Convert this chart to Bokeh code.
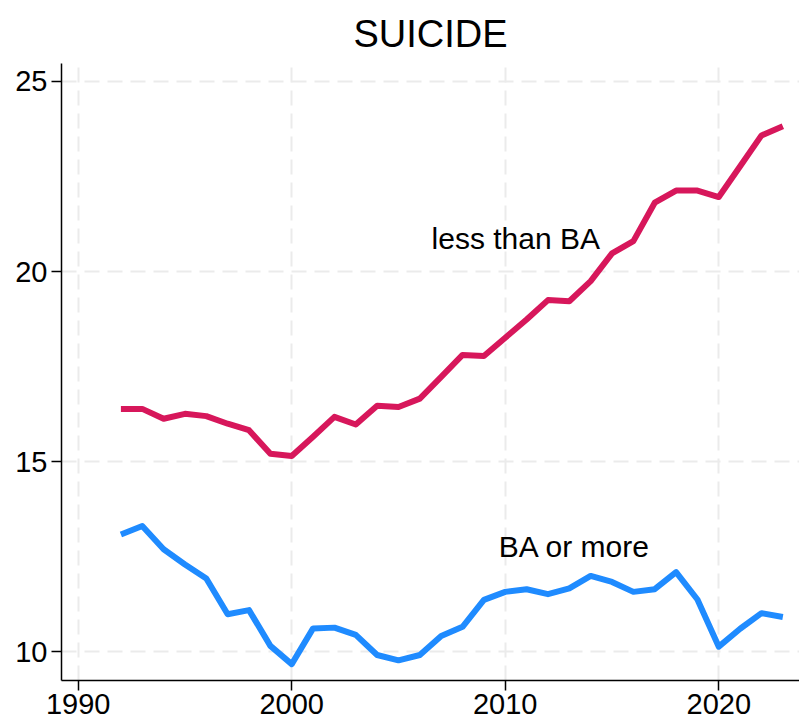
from bokeh.plotting import figure
from bokeh.models import Range1d, FixedTicker, Label
from bokeh.embed import file_html
from bokeh.resources import INLINE

years = list(range(1992, 2024))
less_than_ba = [16.39, 16.39, 16.13, 16.26, 16.20, 16.00, 15.83, 15.21, 15.15, 15.66,
                16.18, 15.98, 16.47, 16.44, 16.66, 17.23, 17.81, 17.78, 18.26, 18.74,
                19.25, 19.22, 19.75, 20.48, 20.80, 21.81, 22.13, 22.13, 21.96, 22.77,
                23.58, 23.82]
ba_or_more = [13.09, 13.31, 12.70, 12.30, 11.93, 10.99, 11.10, 10.16, 9.68, 10.62,
              10.64, 10.45, 9.92, 9.78, 9.92, 10.42, 10.66, 11.37, 11.58, 11.65,
              11.52, 11.67, 12.00, 11.84, 11.58, 11.65, 12.10, 11.38, 10.14, 10.61,
              11.02, 10.92]
x_ticks = [1990, 2000, 2010, 2020]
y_ticks = [10, 15, 20, 25]
title_text = "SUICIDE"
label_less = "less than BA"
label_more = "BA or more"

RED = "#D7175B"
BLUE = "#1F8BFF"
FONT = "Liberation Sans"

p = figure(width=799, height=721, output_backend="svg", toolbar_location=None,
           x_range=Range1d(1989.218, 2023.78), y_range=Range1d(9.25, 25.47),
           min_border_left=61, min_border_right=0, min_border_top=63, min_border_bottom=41)
p.outline_line_color = None
p.background_fill_color = "white"
p.border_fill_color = "white"

p.title.text = title_text
p.title.align = "center"
p.title.text_font = FONT
p.title.text_font_size = "38px"
p.title.text_font_style = "normal"
p.title.text_color = "black"
p.title.standoff = 17

for ax, ticks in ((p.xaxis[0], x_ticks), (p.yaxis[0], y_ticks)):
    ax.ticker = FixedTicker(ticks=ticks)
    ax.minor_tick_line_color = None
    ax.major_tick_in = 0
    ax.major_tick_out = 10
    ax.axis_line_width = 1.5
    ax.axis_line_color = "black"
    ax.major_tick_line_width = 1.5
    ax.major_tick_line_color = "black"
    ax.major_label_text_font = FONT
    ax.major_label_text_font_size = "29px"
    ax.major_label_text_color = "black"
p.xaxis[0].major_label_standoff = 3
p.yaxis[0].major_label_standoff = 4

for g in (p.xgrid[0], p.ygrid[0]):
    g.grid_line_color = "#EBEBEB"
    g.grid_line_width = 2
    g.grid_line_dash = "15 8"

p.line(years, less_than_ba, line_color=RED, line_width=6, line_join="round")
p.line(years, ba_or_more, line_color=BLUE, line_width=6, line_join="round")

p.add_layout(Label(x=2006.55, y=20.87, text=label_less, text_font=FONT,
                   text_font_size="30px", text_color="black",
                   text_align="left", text_baseline="alphabetic"))
p.add_layout(Label(x=2009.70, y=12.76, text=label_more, text_font=FONT,
                   text_font_size="30px", text_color="black",
                   text_align="left", text_baseline="alphabetic"))

open("out.html", "w").write(file_html(p, INLINE))
